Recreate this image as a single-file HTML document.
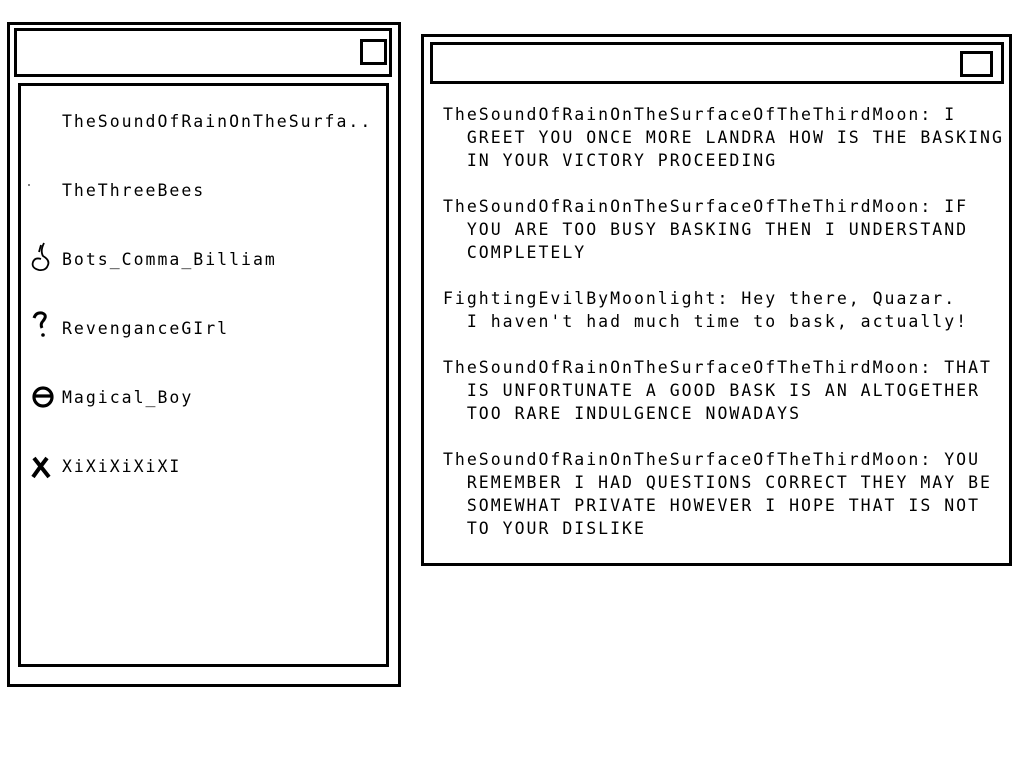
<!DOCTYPE html>
<html><head><style>
body{margin:0;width:1024px;height:768px;background:#fff;position:relative;overflow:hidden;font-family:"DejaVu Sans Mono","Liberation Mono",monospace;font-size:16.5px;letter-spacing:2.0px;color:#000}
.b{position:absolute;border:3px solid #000;box-sizing:border-box}
.t{position:absolute;white-space:pre;line-height:23px}
</style></head><body>
<div class="b" style="left:7px;top:22px;width:394px;height:665px"></div>
<div class="b" style="left:14px;top:28px;width:378px;height:49px"></div>
<div class="b" style="left:360px;top:39px;width:27px;height:26px"></div>
<div class="b" style="left:18px;top:83px;width:371px;height:584px"></div>
<div class="t" style="left:62px;top:110px">TheSoundOfRainOnTheSurfa..</div>
<div class="t" style="left:62px;top:179px">TheThreeBees</div>
<div class="t" style="left:62px;top:248px">Bots_Comma_Billiam</div>
<div class="t" style="left:62px;top:317px">RevenganceGIrl</div>
<div class="t" style="left:62px;top:386px">Magical_Boy</div>
<div class="t" style="left:62px;top:455px">XiXiXiXiXI</div>
<svg style="position:absolute;left:0;top:0" width="1024" height="768">
<path d="M28 185 h2" stroke="#000" stroke-width="1"/>
<path d="M44 243 q-4 8 -1 13 q7 4 5 9 q-2 6 -9 5 q-8 -2 -6 -8 q2 -5 8 -3 M41 245 l-2 7" stroke="#000" stroke-width="1.8" fill="none"/>
<path d="M34 318 q2 -6 8 -5 q6 2 1 8 q-3 3 -1 7" stroke="#000" stroke-width="3" fill="none"/><circle cx="43" cy="335" r="1.8"/>
<circle cx="43" cy="397" r="9" stroke="#000" stroke-width="3.2" fill="none"/><path d="M34 396 h17" stroke="#000" stroke-width="3.2"/>
<path d="M34 458 l15 19 M47 458 q-7 9 -14 19" stroke="#000" stroke-width="4" fill="none"/>
</svg>
<div class="b" style="left:421px;top:34px;width:591px;height:532px"></div>
<div class="b" style="left:430px;top:42px;width:574px;height:42px"></div>
<div class="b" style="left:960px;top:51px;width:33px;height:26px"></div>
<div class="t" style="left:443px;top:103px">TheSoundOfRainOnTheSurfaceOfTheThirdMoon: I
  GREET YOU ONCE MORE LANDRA HOW IS THE BASKING
  IN YOUR VICTORY PROCEEDING

TheSoundOfRainOnTheSurfaceOfTheThirdMoon: IF
  YOU ARE TOO BUSY BASKING THEN I UNDERSTAND
  COMPLETELY

FightingEvilByMoonlight: Hey there, Quazar.
  I haven't had much time to bask, actually!

TheSoundOfRainOnTheSurfaceOfTheThirdMoon: THAT
  IS UNFORTUNATE A GOOD BASK IS AN ALTOGETHER
  TOO RARE INDULGENCE NOWADAYS

TheSoundOfRainOnTheSurfaceOfTheThirdMoon: YOU
  REMEMBER I HAD QUESTIONS CORRECT THEY MAY BE
  SOMEWHAT PRIVATE HOWEVER I HOPE THAT IS NOT
  TO YOUR DISLIKE</div>
</body></html>
